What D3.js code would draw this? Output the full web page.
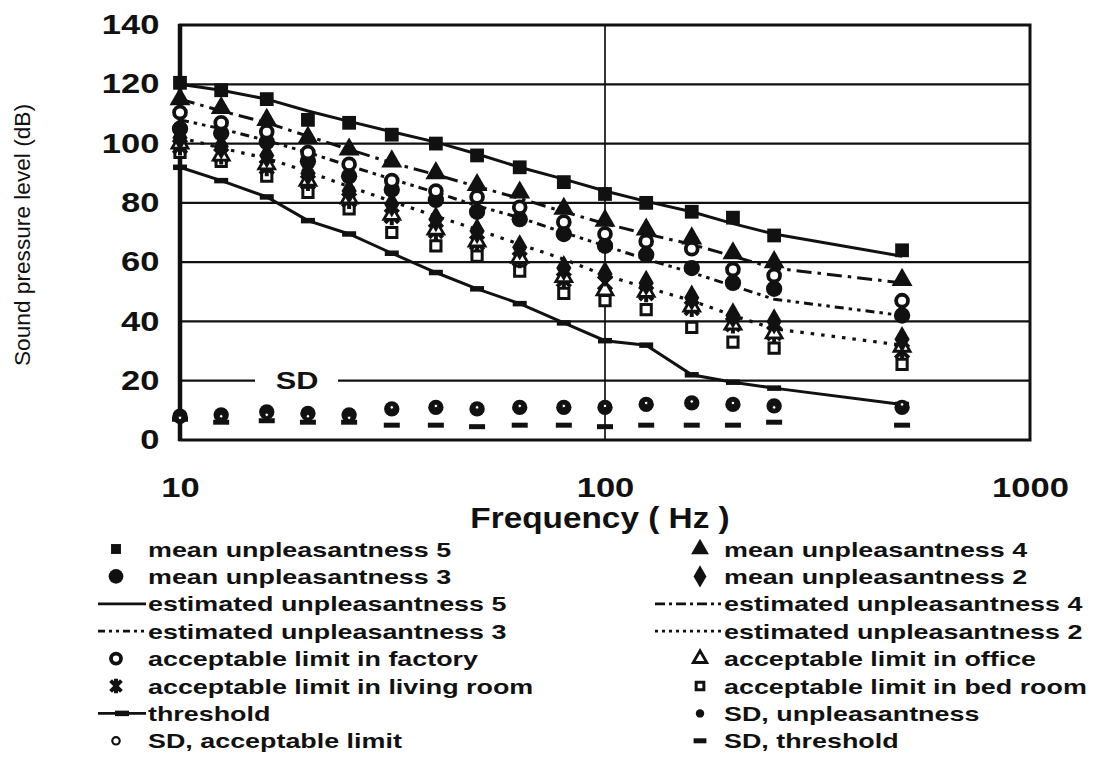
<!DOCTYPE html>
<html>
<head>
<meta charset="utf-8">
<script src="https://cdn.jsdelivr.net/npm/d3@7"></script>
<style>
  html, body { margin: 0; padding: 0; background: #fff; }
  svg { display: block; }
  text { font-family: "Liberation Sans", Arial, sans-serif; fill: #111; }
</style>
</head>
<body>
<svg id="chart" width="1096" height="760"></svg>
<script>
// ---------------- data ----------------
const freqs      = [10, 12.5, 16, 20, 25, 31.5, 40, 50, 63, 80, 100, 125, 160, 200, 250, 500];
const mean5      = [120.5, 118, 115, 108, 107, 103, 100, 96, 92, 87, 83, 80, 77, 75, 69, 64];
const mean4      = [115, 112, 108, 102, 98, 94, 90, 86, 83.5, 78, 74, 71, 68, 63, 60, 54];
const mean3      = [105, 103.5, 100.5, 94, 89, 84.5, 81, 77, 74.5, 69.5, 65.5, 62.5, 58, 53, 51, 42];
const mean2      = [102, 99, 96, 90, 84, 79.5, 74.5, 70.5, 65, 58, 56, 53, 48, 42, 40, 34];
const est5       = [120, 118, 115, 111, 107.5, 104, 100.5, 96.5, 92, 88, 84, 80.5, 77, 73, 69.5, 62];
const est4       = [115, 111, 107, 102.5, 98, 93.5, 89.5, 85.5, 81.5, 77, 73, 69.5, 66, 62, 58, 53];
const est3       = [108, 105, 101, 97, 92.5, 88, 83.5, 79, 75, 70, 65.5, 61, 56.5, 52, 47.5, 42];
const est2       = [102, 98.5, 95, 90.5, 85.5, 80.5, 75.5, 71, 66, 61, 55.5, 51.5, 47, 42, 37.5, 32];
const factory    = [110.5, 107, 104, 97, 93, 87.5, 84, 82, 78.5, 73.5, 69.5, 67, 64.5, 57.5, 55.5, 47];
const office     = [100, 96, 93, 87.5, 81.5, 76, 71, 67, 61.5, 55, 50.5, 50, 45, 39, 36, 31.5];
const livingRoom = [99, 96, 92, 87, 81, 75.5, 70.5, 66.5, 61, 54, 53, 49.5, 44.5, 39, 36, 30];
const bedRoom    = [97, 94, 89, 83.5, 78, 70, 65.5, 62, 57, 49.5, 47, 44, 38, 33, 31, 25.5];
const threshold  = [92, 87.5, 82, 74, 69.5, 63, 56.5, 51, 46, 39.5, 33.5, 32, 22, 19.5, 17.5, 12];
const sdUnpl     = [8, 8.5, 9.5, 9, 8.5, 10.5, 11, 10.5, 11, 11, 11, 12, 12.5, 12, 11.5, 11];
const sdAccept   = [7.5, 8, 8.5, 8, 7.5, 11, 11.5, 11, 11.5, 11.5, 11.5, 12.5, 13, 12.5, 11, 12];
const sdThresh   = [7, 6, 6.5, 6, 6, 5, 5, 4.5, 5, 5, 4.5, 5, 5, 5, 6, 5];

const yTicks = [0, 20, 40, 60, 80, 100, 120, 140];
const xTicks = [10, 100, 1000];
const xTitle = "Frequency ( Hz )";
const yTitle = "Sound pressure level (dB)";
const sdLabel = "SD";

const legendLeft = [
  ["square", "mean unpleasantness 5"],
  ["circle", "mean unpleasantness 3"],
  ["solid", "estimated unpleasantness 5"],
  ["dashdotdot", "estimated unpleasantness 3"],
  ["opencircle", "acceptable limit in factory"],
  ["asterisk", "acceptable limit in living room"],
  ["threshold", "threshold"],
  ["smallopencircle", "SD, acceptable limit"]
];
const legendRight = [
  ["triangle", "mean unpleasantness 4"],
  ["diamond", "mean unpleasantness 2"],
  ["dashdot", "estimated unpleasantness 4"],
  ["dotted", "estimated unpleasantness 2"],
  ["opentriangle", "acceptable limit in office"],
  ["opensquare", "acceptable limit in bed room"],
  ["smallcircle", "SD, unpleasantness"],
  ["dash", "SD, threshold"]
];

// ---------------- layout ----------------
const svg = d3.select("#chart");
const L = 180, R = 1030, T = 25, B = 440;
const x = d3.scaleLog().domain([10, 1000]).range([L, R]);
const y = d3.scaleLinear().domain([0, 140]).range([B, T]);
const ink = "#111";
const WIDE = 1.28;   // the scanned lettering is wider than the font

// gridlines
svg.append("g").selectAll("line").data(yTicks.filter(v => v > 0 && v < 140)).join("line")
  .attr("x1", L).attr("x2", R)
  .attr("y1", d => y(d)).attr("y2", d => y(d))
  .attr("stroke", ink).attr("stroke-width", 2.3);

// vertical line at 100 Hz
svg.append("line").attr("x1", x(100)).attr("x2", x(100)).attr("y1", T).attr("y2", B)
  .attr("stroke", ink).attr("stroke-width", 1.7);

// SD label on the 20 dB gridline
const sdG = svg.append("g");
sdG.append("rect").attr("x", 255).attr("y", y(20) - 12).attr("width", 83).attr("height", 24).attr("fill", "#fff");
sdG.append("text").attr("transform", `translate(297,${y(20)}) scale(${WIDE},1)`).attr("dy", "0.36em")
  .attr("text-anchor", "middle").attr("font-size", 24).attr("font-weight", "bold").text(sdLabel);

// frame
svg.append("rect").attr("x", L).attr("y", T).attr("width", R - L).attr("height", B - T)
  .attr("fill", "none").attr("stroke", ink).attr("stroke-width", 3);
svg.append("line").attr("x1", L).attr("x2", L).attr("y1", T - 1).attr("y2", B + 1)
  .attr("stroke", ink).attr("stroke-width", 4.5);

// axes (labels only)
const yAxis = d3.axisLeft(y).tickValues(yTicks).tickSize(0).tickPadding(16).tickFormat(d3.format("d"));
const gy = svg.append("g").attr("transform", `translate(${L},0)`).call(yAxis);
gy.select(".domain").remove();
gy.selectAll("text").attr("font-size", 27).attr("font-weight", "bold")
  .attr("transform", `scale(${WIDE},1)`)
  .style("font-family", "'Liberation Sans', Arial, sans-serif").attr("fill", ink);

const xAxis = d3.axisBottom(x).tickValues(xTicks).tickSize(0).tickPadding(38).tickFormat(d3.format("d"));
const gx = svg.append("g").attr("transform", `translate(0,${B})`).call(xAxis);
gx.select(".domain").remove();
gx.selectAll("text").attr("font-size", 27).attr("font-weight", "bold")
  .attr("transform", `scale(${WIDE},1)`)
  .style("font-family", "'Liberation Sans', Arial, sans-serif").attr("fill", ink);

svg.append("text").attr("transform", "translate(600,528) scale(1.15,1)").attr("text-anchor", "middle")
  .attr("font-size", 29).attr("font-weight", "bold").text(xTitle);

svg.append("text").attr("transform", "translate(30,235) rotate(-90)")
  .attr("text-anchor", "middle").attr("font-size", 22)
  .attr("textLength", 262).attr("lengthAdjust", "spacingAndGlyphs").text(yTitle);

// ---------------- lines ----------------
const pts = arr => freqs.map((f, i) => [f, arr[i]]);
const line = d3.line().x(d => x(d[0])).y(d => y(d[1]));

function drawLine(arr, dash, width) {
  svg.append("path").datum(pts(arr)).attr("d", line)
    .attr("fill", "none").attr("stroke", ink).attr("stroke-width", width || 2.6)
    .attr("stroke-dasharray", dash || null).attr("stroke-linecap", "butt");
}
drawLine(est2, "3.5,7", 3.2);
drawLine(est3, "9,5,3.5,5,3.5,5", 3);
drawLine(est4, "15,6,3.5,6", 3);
drawLine(est5, null, 3);
drawLine(threshold, null, 3);

// ---------------- markers ----------------
const asteriskPath = r => {
  const d = r * 0.75;
  return `M0,${-r}L0,${r}M${-d},${-d}L${d},${d}M${-d},${d}L${d},${-d}`;
};

function marker(g, type, cx, cy, scale) {
  const s = scale || 1;
  const el = g.append("path").attr("transform", `translate(${cx},${cy})`);
  switch (type) {
    case "square":
      el.attr("d", d3.symbol(d3.symbolSquare, 190 * s * s)()).attr("fill", ink); break;
    case "triangle":
      el.attr("d", d3.symbol(d3.symbolTriangle, 190 * s * s)()).attr("fill", ink); break;
    case "circle":
      el.attr("d", d3.symbol(d3.symbolCircle, 210 * s * s)()).attr("fill", ink); break;
    case "diamond":
      el.attr("d", d3.symbol(d3.symbolDiamond, 200 * s * s)()).attr("fill", ink); break;
    case "opencircle":
      el.attr("d", d3.symbol(d3.symbolCircle, 110 * s * s)()).attr("fill", "#fff")
        .attr("stroke", ink).attr("stroke-width", 3.8); break;
    case "opentriangle":
      el.attr("d", d3.symbol(d3.symbolTriangle, 110 * s * s)()).attr("fill", "#fff")
        .attr("stroke", ink).attr("stroke-width", 2.8); break;
    case "opensquare":
      el.attr("d", d3.symbol(d3.symbolSquare, 105 * s * s)()).attr("fill", "#fff")
        .attr("stroke", ink).attr("stroke-width", 3); break;
    case "asterisk":
      el.attr("d", asteriskPath(9 * s)).attr("fill", "none")
        .attr("stroke", ink).attr("stroke-width", 4); break;
    case "smallopencircle":
      el.attr("d", d3.symbol(d3.symbolCircle, 22 * s * s)()).attr("fill", "#fff")
        .attr("stroke", ink).attr("stroke-width", 2.2); break;
    case "sdopen":
      el.attr("d", d3.symbol(d3.symbolCircle, 10)()).attr("fill", "#fff")
        .attr("stroke", ink).attr("stroke-width", 1); break;
    case "smallcircle":
      el.attr("d", d3.symbol(d3.symbolCircle, 185 * s * s)()).attr("fill", ink); break;
    case "dash":
      el.attr("d", `M${-8 * s},0L${8 * s},0`).attr("stroke", ink).attr("stroke-width", 5); break;
    case "thrdash":
      el.attr("d", `M${-7 * s},0L${7 * s},0`).attr("stroke", ink).attr("stroke-width", 5.5); break;
  }
  return el;
}

function drawSeries(arr, type) {
  const g = svg.append("g");
  freqs.forEach((f, i) => marker(g, type, x(f), y(arr[i])));
}

// lower cluster
drawSeries(bedRoom, "opensquare");
drawSeries(livingRoom, "asterisk");
drawSeries(office, "opentriangle");
drawSeries(mean2, "diamond");
// upper cluster
drawSeries(mean3, "circle");
drawSeries(mean4, "triangle");
drawSeries(factory, "opencircle");
drawSeries(mean5, "square");
drawSeries(threshold, "thrdash");
// SD
drawSeries(sdThresh, "dash");
drawSeries(sdUnpl, "smallcircle");
drawSeries(sdAccept, "sdopen");

// ---------------- legend ----------------
const rowY0 = 549, rowStep = 27.4;
function legendSym(g, type, cx, x1, x2, cy) {
  const dashes = { solid: null, dashdotdot: "7,4,3,4,3,4", dashdot: "10,4,3,4", dotted: "3,4" };
  if (type in dashes) {
    g.append("line").attr("x1", x1).attr("x2", x2).attr("y1", cy).attr("y2", cy)
      .attr("stroke", ink).attr("stroke-width", 2.8).attr("stroke-dasharray", dashes[type]);
  } else if (type === "threshold") {
    g.append("line").attr("x1", x1).attr("x2", x2).attr("y1", cy).attr("y2", cy)
      .attr("stroke", ink).attr("stroke-width", 2.8);
    marker(g, "thrdash", (x1 + x2) / 2, cy, 1);
  } else {
    const sc = { square: 0.72, circle: 0.9, triangle: 0.85, diamond: 0.85, opencircle: 0.85,
      opentriangle: 0.85, opensquare: 0.75, asterisk: 0.8, smallopencircle: 1.4, smallcircle: 0.55, dash: 0.8 }[type] || 1;
    marker(g, type, cx, cy, sc);
  }
}
const lg = svg.append("g");
legendLeft.forEach((d, i) => {
  const cy = rowY0 + i * rowStep;
  legendSym(lg, d[0], 116, 98, 146, cy);
  lg.append("text").attr("transform", `translate(148,${cy}) scale(${WIDE},1)`).attr("dy", "0.36em")
    .attr("font-size", 21).attr("font-weight", "bold").text(d[1]);
});
legendRight.forEach((d, i) => {
  const cy = rowY0 + i * rowStep;
  legendSym(lg, d[0], 700, 655, 721, cy);
  lg.append("text").attr("transform", `translate(724,${cy}) scale(${WIDE},1)`).attr("dy", "0.36em")
    .attr("font-size", 21).attr("font-weight", "bold").text(d[1]);
});
</script>
</body>
</html>
